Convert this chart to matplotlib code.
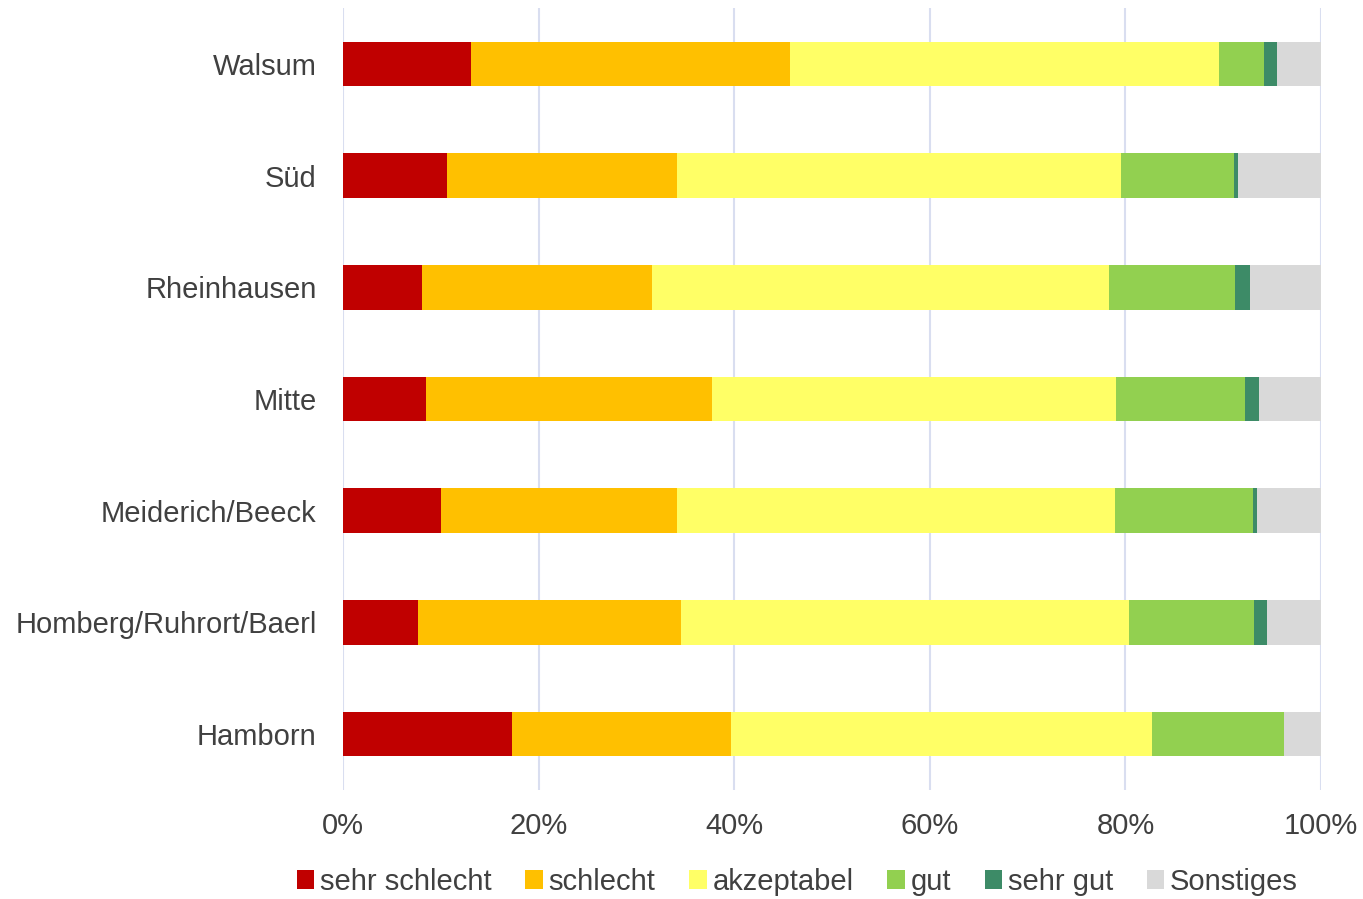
import matplotlib
matplotlib.use("Agg")
import matplotlib.pyplot as plt
import numpy as np

categories = ["Walsum", "Süd", "Rheinhausen", "Mitte", "Meiderich/Beeck",
              "Homberg/Ruhrort/Baerl", "Hamborn"]
series_names = ["sehr schlecht", "schlecht", "akzeptabel", "gut", "sehr gut", "Sonstiges"]
sehr_schlecht = [13.1, 10.6, 8.1, 8.5, 10.0, 7.7, 17.3]
schlecht      = [32.6, 23.6, 23.5, 29.2, 24.2, 26.9, 22.4]
akzeptabel    = [43.9, 45.3, 46.7, 41.3, 44.7, 45.8, 43.0]
gut           = [4.6, 11.6, 12.9, 13.2, 14.1, 12.8, 13.5]
sehr_gut      = [1.3, 0.4, 1.5, 1.5, 0.5, 1.3, 0.0]
sonstiges     = [4.5, 8.5, 7.3, 6.3, 6.5, 5.5, 3.8]
xticks = [0, 20, 40, 60, 80, 100]
xtick_labels = ["0%", "20%", "40%", "60%", "80%", "100%"]

colors = ["#C00000", "#FFC000", "#FFFF66", "#92D050", "#3D8B67", "#D9D9D9"]
series = [sehr_schlecht, schlecht, akzeptabel, gut, sehr_gut, sonstiges]

plt.rcParams['font.family'] = ['Liberation Sans', 'DejaVu Sans']
fig = plt.figure(figsize=(13.63, 8.99), dpi=100)
ax = fig.add_axes([343/1363, 109/899, (1321-343)/1363, (790-8)/899])

y = np.arange(len(categories))[::-1]
left = np.zeros(len(categories))
for name, vals, c in zip(series_names, series, colors):
    vals = np.array(vals, dtype=float)
    ax.barh(y, vals, left=left, height=0.4, color=c, label=name, zorder=3)
    left += vals

ax.set_xlim(0, 100)
ax.set_ylim(-0.5, len(categories) - 0.5)
ax.set_yticks(y)
ax.set_yticklabels(categories, fontsize=21, color="#404040")
ax.set_xticks(xticks)
ax.set_xticklabels(xtick_labels, fontsize=21, color="#404040")
ax.tick_params(axis='both', length=0)
ax.tick_params(axis='x', pad=16)
ax.tick_params(axis='y', pad=19)
for s in ax.spines.values():
    s.set_visible(False)
ax.grid(axis='x', color="#D9DEF0", linewidth=1.5, zorder=0)
ax.set_axisbelow(True)

leg = fig.legend(loc='center', bbox_to_anchor=(0.585, 1 - 882/899), ncol=6,
                 frameon=False, fontsize=21, handlelength=0.6, handleheight=0.6,
                 handletextpad=0.2, columnspacing=1.15)
for t in leg.get_texts():
    t.set_color("#404040")

fig.savefig("out.png", dpi=100)
